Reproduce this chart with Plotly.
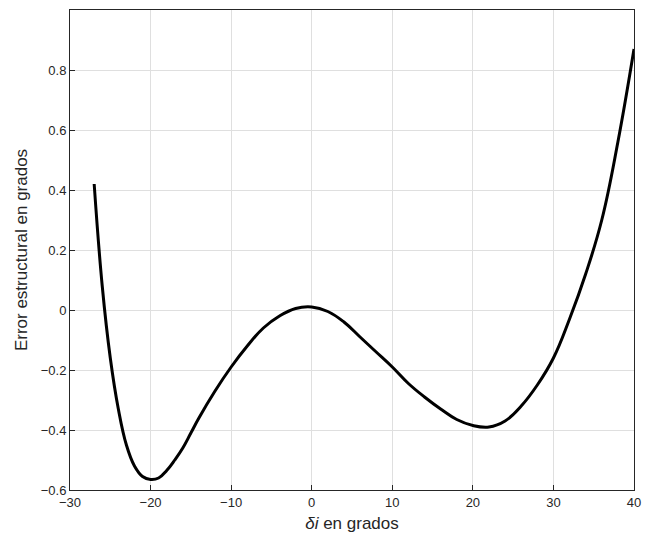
import plotly.graph_objects as go

delta_deg = [-27, -26, -25, -24, -23, -22, -21, -20, -19, -18, -17, -16, -15, -14, -12, -10,
             -8, -6, -4, -2, 0, 2, 4, 6, 8, 10, 12, 14, 16, 18, 20, 22, 24, 26, 28, 30,
             32, 34, 36, 38, 40]
error_deg = [0.42, 0.08, -0.16, -0.33, -0.45, -0.52, -0.555, -0.565, -0.56, -0.535, -0.50,
             -0.46, -0.41, -0.36, -0.27, -0.19, -0.12, -0.06, -0.02, 0.005, 0.01, -0.005,
             -0.04, -0.09, -0.14, -0.19, -0.245, -0.29, -0.33, -0.365, -0.385, -0.39, -0.37,
             -0.32, -0.25, -0.16, -0.03, 0.12, 0.30, 0.56, 0.87]

fig = go.Figure(go.Scatter(x=delta_deg, y=error_deg, mode="lines",
                           line=dict(color="black", width=3, shape="spline", smoothing=1.2)))

axis = dict(showline=True, linecolor="#262626", linewidth=1, mirror=True, ticks="inside",
            ticklen=5, tickcolor="#262626", showgrid=True, gridcolor="#dfdfdf", zeroline=False,
            tickfont=dict(size=13, color="#262626"))
fig.update_xaxes(range=[-30, 40], dtick=10, title=dict(text="<i>δi</i> en grados", font=dict(size=17), standoff=8), **axis)
fig.update_yaxes(range=[-0.6, 1], dtick=0.2, title=dict(text="Error estructural en grados", font=dict(size=17), standoff=8), **axis)
fig.update_layout(width=650, height=546, plot_bgcolor="white", paper_bgcolor="white",
                  margin=dict(l=62, r=24, t=2, b=64), showlegend=False,
                  font=dict(family="Liberation Sans, Arial", color="#262626"))
fig.write_html("out.html")
